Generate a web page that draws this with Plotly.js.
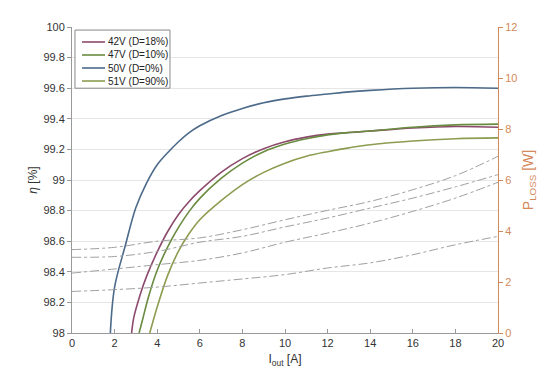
<!DOCTYPE html>
<html><head><meta charset="utf-8">
<script src="https://cdn.plot.ly/plotly-3.0.1.min.js"></script>
<style>html,body{margin:0;padding:0;background:#fff}</style>
</head><body><div id="c" style="width:554px;height:376px"></div>
<script>
// Efficiency curves
const x42 = [2.8, 2.9, 3.2, 3.5, 4, 4.5, 5, 5.5, 6, 7, 8, 9, 10, 11, 12, 13, 14, 16, 18, 20];
const y42 = [98.0, 98.1, 98.25, 98.37, 98.53, 98.665, 98.775, 98.86, 98.93, 99.05, 99.14, 99.205, 99.25, 99.28, 99.3, 99.31, 99.32, 99.34, 99.35, 99.345];
const x47 = [3.15, 3.3, 3.6, 4, 4.5, 5, 5.5, 6, 7, 8, 9, 10, 11, 12, 13, 14, 16, 18, 20];
const y47 = [98.0, 98.08, 98.24, 98.41, 98.565, 98.69, 98.795, 98.88, 99.01, 99.11, 99.185, 99.235, 99.27, 99.295, 99.31, 99.32, 99.345, 99.36, 99.365];
const x50 = [1.8, 2.0, 2.5, 3, 3.5, 4, 4.5, 5, 5.5, 6, 7, 8, 9, 10, 11, 12, 13, 14, 16, 18, 20];
const y50 = [98.0, 98.3, 98.57, 98.82, 98.98, 99.1, 99.18, 99.25, 99.31, 99.355, 99.42, 99.468, 99.505, 99.53, 99.548, 99.562, 99.576, 99.586, 99.6, 99.605, 99.6];
const x51 = [3.65, 4, 4.5, 5, 5.5, 6, 7, 8, 9, 10, 11, 12, 13, 14, 16, 18, 20];
const y51 = [98.0, 98.17, 98.38, 98.535, 98.65, 98.74, 98.865, 98.97, 99.05, 99.11, 99.155, 99.185, 99.21, 99.23, 99.255, 99.27, 99.275];
// Loss curves
const xLoss = [0, 2, 4, 6, 8, 10, 12, 14, 16, 18, 20];
const pLossA = [3.27, 3.36, 3.6, 3.73, 4.05, 4.44, 4.81, 5.16, 5.62, 6.17, 6.93];
const pLossB = [2.97, 3.0, 3.2, 3.56, 3.79, 4.16, 4.51, 4.9, 5.29, 5.73, 6.21];
const pLossC = [2.35, 2.51, 2.68, 2.85, 3.14, 3.56, 3.92, 4.31, 4.77, 5.29, 5.91];
const pLossD = [1.63, 1.70, 1.80, 1.96, 2.12, 2.29, 2.55, 2.75, 3.07, 3.46, 3.79];
const names = ['42V (D=18%)', '47V (D=10%)', '50V (D=0%)', '51V (D=90%)'];
const colors = ['#8c4a6c', '#6a8c40', '#4c6a8a', '#8c9c50'];
const lossColor = '#a0a0a0';
const orange = '#d4895a';

const eff = [[x42,y42],[x47,y47],[x50,y50],[x51,y51]].map((d,i)=>({
  x:d[0], y:d[1], name:names[i], type:'scatter', mode:'lines', showlegend:false,
  line:{color:colors[i], width:1.6, shape:'spline'}, yaxis:'y'
}));
const loss = [pLossA,pLossB,pLossC,pLossD].map(p=>({
  x:xLoss, y:p, type:'scatter', mode:'lines', showlegend:false,
  line:{color:lossColor, width:1, dash:'dashdot', shape:'spline'}, yaxis:'y2'
}));

// compact legend box (MATLAB style)
const legRowY = [0.951, 0.9085, 0.866, 0.8235];
const shapes = [{type:'rect', xref:'paper', yref:'paper', x0:0.007, x1:0.23, y0:0.8, y1:0.99,
  line:{color:'#888', width:1}, fillcolor:'#fff', layer:'above'}];
const annotations = [];
names.forEach((n,i)=>{
  shapes.push({type:'line', xref:'paper', yref:'paper', x0:0.0235, x1:0.0775, y0:legRowY[i], y1:legRowY[i],
    line:{color:colors[i], width:1.6}, layer:'above'});
  annotations.push({xref:'paper', yref:'paper', x:0.08, y:legRowY[i], xanchor:'left', yanchor:'middle',
    text:n, showarrow:false, font:{size:10, color:'#222'}});
});

const layout = {
  width:554, height:376,
  margin:{l:72, r:56, t:27, b:43},
  paper_bgcolor:'#fff', plot_bgcolor:'#fff',
  font:{family:'Liberation Sans, Arial, sans-serif', size:11, color:'#333'},
  showlegend:false,
  shapes:shapes, annotations:annotations,
  xaxis:{range:[0,20], dtick:2, showgrid:false, zeroline:false,
    showline:true, linecolor:'#999', linewidth:1,
    ticks:'inside', ticklen:4, tickcolor:'#999',
    title:{text:'I<sub>out</sub> [A]', font:{size:12, color:'#333'}, standoff:6}},
  yaxis:{range:[98,100], dtick:0.2, showgrid:true, gridcolor:'#e6e6e6', zeroline:false,
    showline:true, linecolor:'#999', linewidth:1,
    ticks:'outside', ticklen:4, tickcolor:'#999',
    title:{text:'<i>η</i> [%]', font:{size:12, color:'#333'}, standoff:3}},
  yaxis2:{range:[0,12], dtick:2, overlaying:'y', side:'right', showgrid:false, zeroline:false,
    showline:true, linecolor:orange, linewidth:1,
    ticks:'outside', ticklen:4, tickcolor:orange, tickfont:{color:orange},
    title:{text:'P<sub>LOSS</sub> [W]', font:{size:14, color:orange}, standoff:6}}
};
Plotly.newPlot('c', loss.concat(eff), layout, {displayModeBar:false, staticPlot:true});
</script></body></html>
